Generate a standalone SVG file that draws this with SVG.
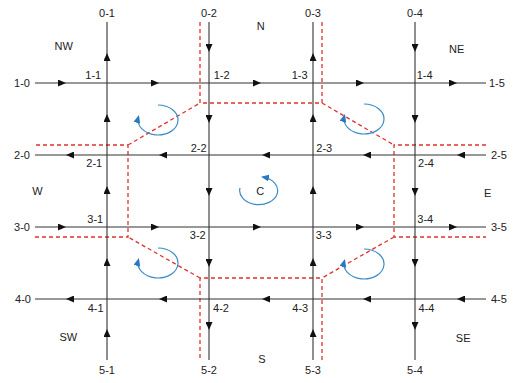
<svg xmlns="http://www.w3.org/2000/svg" xmlns:xlink="http://www.w3.org/1999/xlink" width="514" height="383" viewBox="0 0 514 383">
<style>
text{font-family:"Liberation Sans",Arial,sans-serif;font-size:11px;fill:#222;}
.m{text-anchor:middle;}
.e{text-anchor:end;}
.road{fill:none;stroke:#333;stroke-width:1.1;marker-mid:url(#ah);}
.zone{fill:none;stroke:#e0312f;stroke-width:1.3;stroke-dasharray:4,3;}
.rot{fill:none;stroke:#3a8cc6;stroke-width:1.2;marker-end:url(#bh);}
</style>
<defs>
<marker id="ah" viewBox="0 0 8 7" refX="4" refY="3.5" markerWidth="8" markerHeight="7" markerUnits="userSpaceOnUse" orient="auto"><path d="M0,0 L8,3.5 L0,7 z" fill="#111"/></marker>
<marker id="bh" viewBox="0 0 8 7" refX="6" refY="3.5" markerWidth="8" markerHeight="7" markerUnits="userSpaceOnUse" orient="auto"><path d="M0,0 L8,3.5 L0,7 z" fill="#2a78c0"/></marker>
<path id="corner" class="rot" d="M0,0 A20,15 0 1 1 -19.6,12"/>
</defs>
<g id="zone-boundary">
<path class="zone" d="M200,22 V103 H322 V22 M322,103 L394,145 M486,145 H394 V237 H486 M394,237 L322,278 M322,360 V278 H200 V360 M200,278 L128,237 M35,237 H128 V145 H35 M128,145 L200,103"/>
</g>
<g id="connectors">
<path class="road" d="M35,83 L62,83 L155,83 L257,83 L360,83 L453,83 L486,83"/>
<path class="road" d="M486,155 L461,155 L367,155 L266,155 L163,155 L70,155 L35,155"/>
<path class="road" d="M35,227 L62,227 L155,227 L257,227 L360,227 L453,227 L486,227"/>
<path class="road" d="M486,299 L461,299 L367,299 L266,299 L163,299 L70,299 L35,299"/>
<path class="road" d="M107,360 L107,333 L107,262 L107,190 L107,118 L107,57 L107,22"/>
<path class="road" d="M209,22 L209,48 L209,119 L209,192 L209,263 L209,326 L209,360"/>
<path class="road" d="M313,360 L313,333 L313,262 L313,190 L313,118 L313,57 L313,22"/>
<path class="road" d="M415,22 L415,48 L415,119 L415,192 L415,263 L415,326 L415,360"/>
</g>
<g id="rotations">
<use xlink:href="#corner" x="158" y="105"/>
<use xlink:href="#corner" x="364" y="104"/>
<use xlink:href="#corner" x="158" y="248"/>
<use xlink:href="#corner" x="364" y="249"/>
<path class="rot" d="M240,188 A19,14 0 1 0 263,177"/>
</g>
<g id="edge-labels">
<text class="m" x="107" y="16.5">0-1</text>
<text class="m" x="209" y="16.5">0-2</text>
<text class="m" x="313" y="16.5">0-3</text>
<text class="m" x="415" y="16.5">0-4</text>
<text class="m" x="107" y="374">5-1</text>
<text class="m" x="209" y="374">5-2</text>
<text class="m" x="313" y="374">5-3</text>
<text class="m" x="415" y="374">5-4</text>
<text class="e" x="30" y="86.5">1-0</text>
<text class="e" x="30" y="158.5">2-0</text>
<text class="e" x="30" y="230.7">3-0</text>
<text class="e" x="31" y="302.7">4-0</text>
<text x="489" y="86.5">1-5</text>
<text x="491" y="158.5">2-5</text>
<text x="491" y="230.7">3-5</text>
<text x="491" y="302.7">4-5</text>
</g>
<g id="intersections">
<text class="m" x="93.3" y="79">1-1</text>
<text class="m" x="221.7" y="79">1-2</text>
<text class="m" x="299.7" y="79">1-3</text>
<text class="m" x="424.7" y="79">1-4</text>
<text class="m" x="94.3" y="167.3">2-1</text>
<text class="m" x="198.7" y="151.7">2-2</text>
<text class="m" x="324.3" y="151.7">2-3</text>
<text class="m" x="426" y="167.3">2-4</text>
<text class="m" x="95.3" y="223.3">3-1</text>
<text class="m" x="197.8" y="238.7">3-2</text>
<text class="m" x="323.7" y="238.7">3-3</text>
<text class="m" x="425.3" y="223.3">3-4</text>
<text class="m" x="95.7" y="311.7">4-1</text>
<text class="m" x="221" y="311.7">4-2</text>
<text class="m" x="300.3" y="311.7">4-3</text>
<text class="m" x="426.5" y="311.7">4-4</text>
</g>
<g id="regions">
<text class="m" x="63.7" y="50">NW</text>
<text class="m" x="260.7" y="30">N</text>
<text class="m" x="456.7" y="52.7">NE</text>
<text class="m" x="37.5" y="195">W</text>
<text class="m" x="260.3" y="195">C</text>
<text class="m" x="487.7" y="196.7">E</text>
<text class="m" x="68.3" y="340.7">SW</text>
<text class="m" x="262" y="363.3">S</text>
<text class="m" x="463.2" y="342.3">SE</text>
</g>
</svg>
